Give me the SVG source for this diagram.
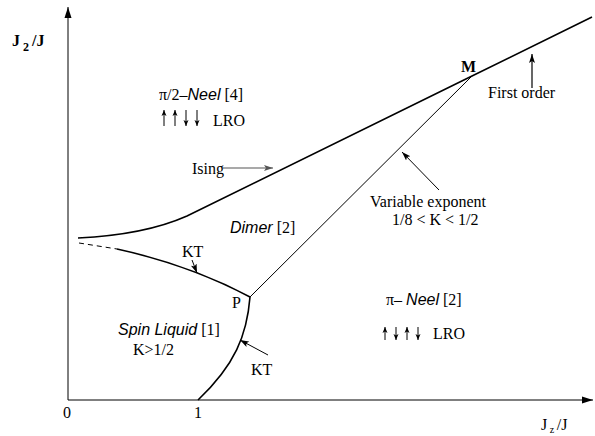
<svg xmlns="http://www.w3.org/2000/svg" width="595" height="436" viewBox="0 0 595 436">
<style>
.s{font-family:"Liberation Serif","Times New Roman",serif;font-size:16px;fill:#000}
.si{font-family:"Liberation Sans",Arial,sans-serif;font-style:italic;font-size:16px}
.b{font-weight:bold}
.ln{fill:none;stroke:#000;stroke-width:1.6}
.th{fill:none;stroke:#000;stroke-width:1}
.sp{fill:none;stroke:#000;stroke-width:1}
</style>
<defs>
<marker id="ah" markerUnits="userSpaceOnUse" markerWidth="10" markerHeight="8" refX="9" refY="4" orient="auto"><path d="M0,1 L9,4 L0,7 L2,4 Z" fill="#000"/></marker>
<marker id="ax" markerUnits="userSpaceOnUse" markerWidth="12" markerHeight="8" refX="11" refY="4" orient="auto"><path d="M0,0.5 L11,4 L0,7.5 Z" fill="#000"/></marker>
<marker id="ag" markerUnits="userSpaceOnUse" markerWidth="10" markerHeight="8" refX="9" refY="4" orient="auto"><path d="M0,1 L9,4 L0,7 L2,4 Z" fill="#555"/></marker>
<marker id="sh" markerUnits="userSpaceOnUse" markerWidth="6" markerHeight="8" refX="3" refY="0" orient="0"><path d="M0.5,6 L3,0 L5.5,6 L3,4.5 Z" fill="#000"/></marker>
<marker id="sd" markerUnits="userSpaceOnUse" markerWidth="6" markerHeight="8" refX="3" refY="6" orient="0"><path d="M0.5,0 L3,6 L5.5,0 L3,1.5 Z" fill="#000"/></marker>
</defs>

<g id="axes">
<line class="th" x1="68" y1="400" x2="68" y2="7" marker-end="url(#ax)"/>
<line class="th" x1="68" y1="400" x2="593" y2="400" marker-end="url(#ax)"/>
<text class="s b" x="12" y="46">J<tspan font-size="12" dy="5"> 2 </tspan><tspan dy="-5">/J</tspan></text>
<text class="s" x="63" y="418">0</text>
<text class="s" x="194" y="418">1</text>
<text class="s" x="541" y="430">J<tspan font-size="10" dy="3"> z </tspan><tspan dy="-3">/J</tspan></text>
</g>

<g id="connectors">
<path class="ln" d="M78,238 C120,236 160,228 187,216 L472,76 L592,17"/>
<path class="th" d="M79,243 L117,249" stroke-dasharray="5,4"/>
<path class="ln" d="M117,249 Q190,265 250,297"/>
<path class="th" stroke-width="1.2" d="M250,297 L472,76"/>
<path class="ln" d="M250,297 C247,335 235,365 198,400"/>
<line class="th" x1="192" y1="260" x2="197" y2="273" marker-end="url(#ah)"/>
<line class="th" x1="268" y1="355" x2="240" y2="340" marker-end="url(#ah)"/>
<line stroke="#555" stroke-width="1.2" x1="223" y1="168" x2="273" y2="168" marker-end="url(#ag)"/>
<line stroke="#000" stroke-width="1.2" x1="532" y1="88" x2="532" y2="54" marker-end="url(#ah)"/>
<line class="th" x1="439" y1="190" x2="402" y2="152" marker-end="url(#ah)"/>
</g>

<g id="pi2neel">
<text class="s" x="159" y="100">π/2–<tspan class="si">Neel</tspan> [4]</text>
<line class="sp" x1="164" y1="126" x2="164" y2="110" marker-end="url(#sh)"/>
<line class="sp" x1="175" y1="126" x2="175" y2="110" marker-end="url(#sh)"/>
<line class="sp" x1="186" y1="110" x2="186" y2="126" marker-end="url(#sd)"/>
<line class="sp" x1="197" y1="110" x2="197" y2="126" marker-end="url(#sd)"/>
<text class="s" x="213" y="126">LRO</text>
</g>

<g id="ising"><text class="s" x="192" y="174">Ising</text></g>
<g id="dimer"><text class="s" x="230" y="233"><tspan class="si">Dimer</tspan> [2]</text></g>
<g id="kt1"><text class="s" font-size="14" x="182" y="257">KT</text></g>
<g id="p"><text class="s" font-size="14" x="232" y="308">P</text></g>
<g id="m"><text class="s" font-size="14" font-weight="bold" x="461" y="72">M</text></g>
<g id="firstorder"><text class="s" x="488" y="98">First order</text></g>
<g id="varexp">
<text class="s" x="370" y="207">Variable exponent</text>
<text class="s" x="392" y="225">1/8 &lt; K &lt; 1/2</text>
</g>
<g id="pineel">
<text class="s" x="386" y="305">π– <tspan class="si">Neel</tspan> [2]</text>
<line class="sp" x1="385" y1="340" x2="385" y2="327" marker-end="url(#sh)"/>
<line class="sp" x1="396" y1="327" x2="396" y2="340" marker-end="url(#sd)"/>
<line class="sp" x1="407" y1="340" x2="407" y2="327" marker-end="url(#sh)"/>
<line class="sp" x1="418" y1="327" x2="418" y2="340" marker-end="url(#sd)"/>
<text class="s" x="433" y="339">LRO</text>
</g>
<g id="spinliquid">
<text class="s" x="118" y="335"><tspan class="si">Spin Liquid</tspan> [1]</text>
<text class="s" x="133" y="355">K&gt;1/2</text>
</g>
<g id="kt2"><text class="s" font-size="14" x="251" y="375">KT</text></g>
</svg>
